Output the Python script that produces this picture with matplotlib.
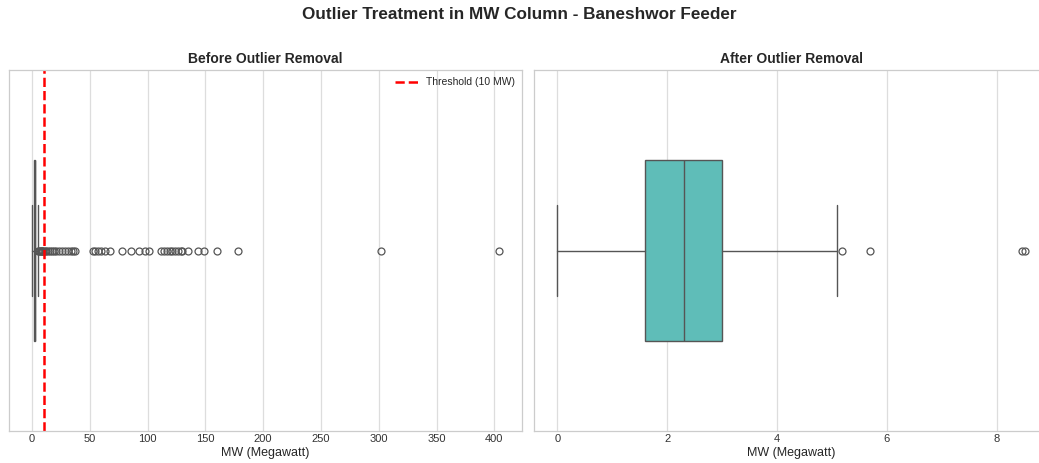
import matplotlib
matplotlib.use("Agg")
import matplotlib.pyplot as plt
import seaborn as sns

# box statistics (MW)
before_q1, before_med, before_q3 = 1.6, 2.3, 3.0
before_whislo, before_whishi = 0.0, 5.1
before_fliers = [5.2, 5.7, 6.6, 7.5, 8.47, 8.52, 9.6, 11.0, 12.5, 14.0, 15.5, 17.0,
                 19.0, 21.0, 23.5, 26.0, 29.0, 31.5, 33.5, 35.5, 37.5,
                 52.5, 54.5, 57.0, 60.0, 63.0, 67.5,
                 78.0, 86.0, 93.0, 98.0, 101.0,
                 112.0, 114.5, 117.0, 119.0, 121.5, 124.0, 126.0, 128.5, 130.0,
                 135.0, 144.0, 149.0, 160.0, 178.0, 302.0, 404.0]

after_q1, after_med, after_q3 = 1.6, 2.3, 2.99
after_whislo, after_whishi = 0.0, 5.09
after_fliers = [5.19, 5.70, 8.47, 8.52]

threshold = 10

sns.set_style("whitegrid")
plt.rcParams['font.family'] = ['Liberation Sans', 'DejaVu Sans']

fill = "#5fbdb8"
edge = "#555555"

fig = plt.figure(figsize=(10.39, 4.63), dpi=100)
ax1 = fig.add_axes([0.0083, 0.0691, 0.4944, 0.7797])
ax2 = fig.add_axes([0.514, 0.0691, 0.4947, 0.7797])


def draw_box(ax, q1, med, q3, lo, hi, fliers):
    stats = [dict(q1=q1, med=med, q3=q3, whislo=lo, whishi=hi, fliers=fliers)]
    ax.bxp(stats, positions=[0], widths=0.5, capwidths=0.25, orientation='horizontal',
           patch_artist=True,
           boxprops=dict(facecolor=fill, edgecolor=edge, linewidth=1.0),
           medianprops=dict(color=edge, linewidth=1.0),
           whiskerprops=dict(color=edge, linewidth=1.0),
           capprops=dict(color=edge, linewidth=1.0),
           flierprops=dict(marker='o', markerfacecolor='none', markeredgecolor=edge,
                           markersize=5, markeredgewidth=0.9))
    ax.set_ylim(0.5, -0.5)
    ax.set_yticks([])
    ax.grid(axis='y', visible=False)
    ax.grid(axis='x', color='#dddddd', linewidth=0.9)
    ax.tick_params(axis='x', labelsize=8, colors='#333333', pad=2, length=0)
    ax.set_xlabel("MW (Megawatt)", fontsize=9, labelpad=2)
    for s in ax.spines.values():
        s.set_color('#cccccc')
        s.set_linewidth(0.9)


draw_box(ax1, before_q1, before_med, before_q3, before_whislo, before_whishi, before_fliers)
ax1.set_xlim(-20.2, 424.2)
ax1.set_xticks(range(0, 401, 50))
ax1.axvline(threshold, color='red', linestyle='--', linewidth=1.8, label="Threshold (10 MW)")
ax1.legend(loc='upper right', frameon=False, fontsize=7.5, handlelength=2.2,
           borderaxespad=0.3)
ax1.set_title("Before Outlier Removal", fontsize=10, fontweight='bold', pad=5)

draw_box(ax2, after_q1, after_med, after_q3, after_whislo, after_whishi, after_fliers)
ax2.set_xlim(-0.4255, 8.936)
ax2.set_xticks([0, 2, 4, 6, 8])
ax2.set_title("After Outlier Removal", fontsize=10, fontweight='bold', pad=5)

fig.suptitle("Outlier Treatment in MW Column - Baneshwor Feeder", fontsize=12.3,
             fontweight='bold', y=0.968, va='center')

fig.savefig("out.png", dpi=100)
